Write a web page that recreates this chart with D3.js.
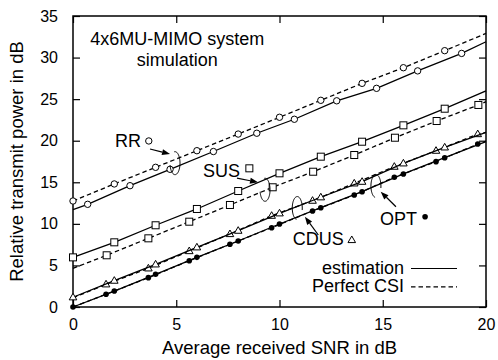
<!DOCTYPE html>
<html>
<head>
<meta charset="utf-8">
<script src="https://cdn.jsdelivr.net/npm/d3@7"></script>
<style>
  body { margin: 0; background: #fff; }
  text { font-family: "Liberation Sans", Arial, Helvetica, sans-serif; fill: #000; }
</style>
</head>
<body>
<div id="chart"></div>
<script>
// x = average received SNR (dB), y = relative transmit power (dB)
// each series: marker positions, plus line values at SNR 0 and 20 (null = starts on a marker)
var rrPerfX = [0, 2, 4, 6, 8, 10, 12, 14, 16, 18],
    rrPerfY = [12.75, 14.8, 16.8, 18.8, 20.8, 22.82, 24.86, 26.9, 28.78, 30.83],
    rrPerfEnds = [null, 32.9];
var rrEstX = [0.71, 2.76, 4.7, 6.8, 8.9, 10.72, 12.77, 14.7, 16.69, 18.82],
    rrEstY = [12.35, 14.59, 16.56, 18.7, 20.9, 22.58, 24.8, 26.3, 28.4, 30.5],
    rrEstEnds = [11.7, 31.9];
var susEstX = [0, 2, 4, 6, 8, 10, 12, 14, 16, 18],
    susEstY = [5.97, 7.78, 9.83, 11.79, 13.95, 16.08, 18.08, 19.88, 21.85, 23.85],
    susEstEnds = [null, 26.0];
var susPerfX = [1.63, 3.65, 5.63, 7.6, 9.67, 11.63, 13.62, 15.59, 17.61, 19.63],
    susPerfY = [6.22, 8.26, 10.26, 12.27, 14.4, 16.27, 18.28, 20.36, 22.37, 24.3],
    susPerfEnds = [4.65, 24.7];
var cdusEstX = [0, 2, 4, 6, 8, 10, 12, 14, 16, 18],
    cdusEstY = [1.17, 3.17, 5.13, 7.18, 9.18, 11.27, 13.2, 15.07, 17.28, 19.2],
    cdusEstEnds = [null, 21.0];
var cdusPerfX = [1.6, 3.65, 5.63, 7.6, 9.62, 11.6, 13.62, 15.56, 17.58, 19.6],
    cdusPerfY = [2.73, 4.65, 6.73, 8.78, 10.98, 12.79, 14.87, 16.88, 18.8, 20.8],
    cdusPerfEnds = [1.1, 21.0];
var optEstX = [0, 2, 4, 6, 8, 10, 12, 14, 16, 18],
    optEstY = [0, 1.92, 3.93, 5.97, 7.94, 9.98, 11.94, 13.87, 16.0, 17.96],
    optEstEnds = [null, 19.9];
var optPerfX = [1.6, 3.65, 5.63, 7.6, 9.62, 11.6, 13.62, 15.56, 17.58, 19.6],
    optPerfY = [1.53, 3.53, 5.57, 7.54, 9.54, 11.55, 13.47, 15.6, 17.48, 19.6],
    optPerfEnds = [0, 19.95];

var xTicks = [0, 5, 10, 15, 20],
    yTicks = [0, 5, 10, 15, 20, 25, 30, 35];

// scheme labels: text position, legend-marker position, ellipse centre, arrow tail -> tip
var labels = [
  {name: "RR",   marker: "circle",   tx: 2.03,  ty: 19.28, mx: 3.67,  my: 19.97, ex: 4.94,  ey: 17.3,  ax: [3.73, 4.7],    ay: [19.0, 18.4], gap: "left"},
  {name: "SUS",  marker: "square",   tx: 6.3,   ty: 15.64, mx: 8.54,  my: 16.68, ex: 9.3,   ey: 14.1,  ax: [7.94, 8.96],   ay: [15.5, 15.0], gap: "left"},
  {name: "CDUS", marker: "triangle", tx: 10.64, ty: 7.46,  mx: 13.5,  my: 8.06,  ex: 10.86, ey: 11.9,  ax: [11.88, 11.23], ay: [8.66, 10.86], gap: "right"},
  {name: "OPT",  marker: "dot",      tx: 14.87, ty: 9.86,  mx: 17.05, my: 10.86, ex: 14.67, ey: 14.55, ax: [15.64, 14.9],  ay: [12.06, 13.87], gap: "right"}
];

var margin = {top: 16, right: 12, bottom: 53, left: 73},
    W = 498, H = 360,
    width = W - margin.left - margin.right,
    height = H - margin.top - margin.bottom;

var svg = d3.select("#chart").append("svg")
  .attr("width", W)
  .attr("height", H);

var g = svg.append("g").attr("transform", "translate(" + margin.left + "," + margin.top + ")");

var x = d3.scaleLinear().domain([0, 20]).range([0, width]);
var y = d3.scaleLinear().domain([0, 35]).range([height, 0]);

// axes with inward ticks
var tickLen = 7;
g.append("g").attr("transform", "translate(0," + height + ")")
  .call(d3.axisBottom(x).tickValues(xTicks).tickSizeInner(-tickLen).tickSizeOuter(0).tickPadding(tickLen + 5));
g.append("g")
  .call(d3.axisTop(x).tickValues(xTicks).tickSizeInner(-tickLen).tickSizeOuter(0).tickFormat(""));
g.append("g")
  .call(d3.axisLeft(y).tickValues(yTicks).tickSizeInner(-tickLen).tickSizeOuter(0).tickPadding(tickLen + 8));
g.append("g").attr("transform", "translate(" + width + ",0)")
  .call(d3.axisRight(y).tickValues(yTicks).tickSizeInner(-tickLen).tickSizeOuter(0).tickFormat(""));

g.selectAll(".domain").remove();
g.selectAll(".tick line").attr("stroke", "#000").attr("stroke-width", 1.2);
g.selectAll(".tick text").style("font-size", "16px").attr("fill", "#000");

g.append("rect")
  .attr("width", width).attr("height", height)
  .attr("fill", "none").attr("stroke", "#000").attr("stroke-width", 1.5);

// axis titles
svg.append("text")
  .attr("x", margin.left + width / 2).attr("y", 354)
  .attr("text-anchor", "middle").style("font-size", "18.5px")
  .text("Average received SNR in dB");
svg.append("text")
  .attr("transform", "translate(23," + (margin.top + height / 2) + ") rotate(-90)")
  .attr("text-anchor", "middle").style("font-size", "18.5px")
  .text("Relative transmit power in dB");

var plot = g.append("g");

var line = d3.line().x(function (d) { return x(d[0]); }).y(function (d) { return y(d[1]); });

function drawMarker(sel, type, px, py) {
  if (type === "circle") {
    sel.append("circle").attr("cx", px).attr("cy", py).attr("r", 3.2)
      .attr("fill", "#fff").attr("stroke", "#000").attr("stroke-width", 1);
  } else if (type === "square") {
    sel.append("rect").attr("x", px - 3.5).attr("y", py - 3.5).attr("width", 7).attr("height", 7)
      .attr("fill", "#fff").attr("stroke", "#000").attr("stroke-width", 1);
  } else if (type === "triangle") {
    sel.append("path")
      .attr("d", "M" + px + "," + (py - 4) + "L" + (px + 3.8) + "," + (py + 2.6) + "L" + (px - 3.8) + "," + (py + 2.6) + "Z")
      .attr("fill", "#fff").attr("stroke", "#000").attr("stroke-width", 1);
  } else {
    sel.append("circle").attr("cx", px).attr("cy", py).attr("r", 2.8).attr("fill", "#000");
  }
}

function series(xs, ys, ends, type, dashed) {
  var pts = xs.map(function (v, i) { return [v, ys[i]]; });
  if (ends[0] !== null) pts.unshift([0, ends[0]]);
  pts.push([20, ends[1]]);
  plot.append("path").datum(pts)
    .attr("d", line)
    .attr("fill", "none").attr("stroke", "#000").attr("stroke-width", 1.3)
    .attr("stroke-dasharray", dashed ? "4.5,3" : null);
  var m = plot.append("g");
  xs.forEach(function (v, i) { drawMarker(m, type, x(v), y(ys[i])); });
}

series(rrPerfX, rrPerfY, rrPerfEnds, "circle", true);
series(rrEstX, rrEstY, rrEstEnds, "circle", false);
series(susPerfX, susPerfY, susPerfEnds, "square", true);
series(susEstX, susEstY, susEstEnds, "square", false);
series(cdusPerfX, cdusPerfY, cdusPerfEnds, "triangle", true);
series(cdusEstX, cdusEstY, cdusEstEnds, "triangle", false);
series(optPerfX, optPerfY, optPerfEnds, "dot", true);
series(optEstX, optEstY, optEstEnds, "dot", false);

// title text
g.append("text").attr("x", x(5.05)).attr("y", y(31.5))
  .attr("text-anchor", "middle").style("font-size", "18px").text("4x6MU-MIMO system");
g.append("text").attr("x", x(5.05)).attr("y", y(28.95))
  .attr("text-anchor", "middle").style("font-size", "18px").text("simulation");

// scheme labels with arrows and ellipses
var ann = g.append("g");
labels.forEach(function (d) {
  ann.append("text").attr("x", x(d.tx)).attr("y", y(d.ty)).style("font-size", "18px").text(d.name);
  drawMarker(ann, d.marker, x(d.mx), y(d.my));

  // open ellipse round the two curves
  var cx = x(d.ex), cy = y(d.ey), rx = 5, ry = 11.5;
  var a0 = d.gap === "left" ? -100 : 100, a1 = a0 + 270;
  var pts = d3.range(a0, a1 + 1, 5).map(function (a) {
    var t = a * Math.PI / 180;
    return [cx + rx * Math.cos(t), cy + ry * Math.sin(t)];
  });
  ann.append("path").attr("d", d3.line()(pts))
    .attr("fill", "none").attr("stroke", "#000").attr("stroke-width", 1);

  // arrow
  var x0 = x(d.ax[0]), y0 = y(d.ay[0]), x1 = x(d.ax[1]), y1 = y(d.ay[1]);
  var ang = Math.atan2(y1 - y0, x1 - x0), L = 8, w = 3;
  var bx = x1 - L * Math.cos(ang), by = y1 - L * Math.sin(ang);
  ann.append("line").attr("x1", x0).attr("y1", y0).attr("x2", bx).attr("y2", by)
    .attr("stroke", "#000").attr("stroke-width", 1.2);
  ann.append("path")
    .attr("d", "M" + x1 + "," + y1 +
      "L" + (bx + w * Math.sin(ang)) + "," + (by - w * Math.cos(ang)) +
      "L" + (bx - w * Math.sin(ang)) + "," + (by + w * Math.cos(ang)) + "Z")
    .attr("fill", "#000");
});

// legend
var legend = [{label: "estimation", dash: null}, {label: "Perfect CSI", dash: "4.5,3"}];
var lg = svg.append("g");
legend.forEach(function (d, i) {
  var yy = 268.5 + i * 18.3;
  lg.append("text").attr("x", 404).attr("y", yy + 5.5)
    .attr("text-anchor", "end").style("font-size", "18px").text(d.label);
  lg.append("line").attr("x1", 411).attr("x2", 457).attr("y1", yy).attr("y2", yy)
    .attr("stroke", "#000").attr("stroke-width", 1.2).attr("stroke-dasharray", d.dash);
});
</script>
</body>
</html>
